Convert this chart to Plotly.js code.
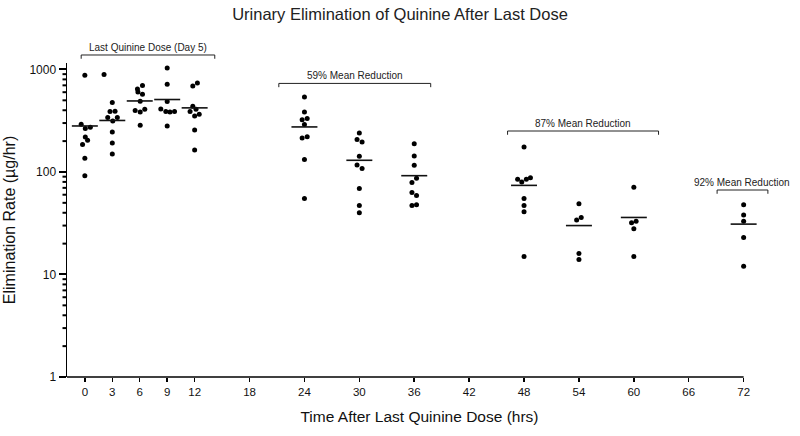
<!DOCTYPE html>
<html>
<head>
<meta charset="utf-8">
<script src="https://cdn.plot.ly/plotly-3.0.1.min.js"></script>
<style>
  html, body { margin: 0; padding: 0; background: #fff; }
  #plot { width: 800px; height: 436px; }
</style>
</head>
<body>
<div id="plot"></div>
<script>
// hours after last dose for each sample (small horizontal jitter as drawn)
const pointTime = [
  0, -0.4, 0.05, 0.6, 0.05, 0.3, -0.25, 0, 0,
  2.1, 3, 2.75, 3.3, 2.5, 3.55, 3.05, 3, 3, 3,
  6.3, 5.75, 5.8, 6.3, 6.05, 5.5, 6.05, 6.55, 6.05,
  9, 9, 9, 8.3, 8.85, 9.3, 9.8, 9,
  11.8, 12.3, 11.8, 11.5, 12.15, 12.5, 12, 12, 12,
  24, 24, 23.75, 24.3, 24, 23.75, 24.3, 24, 24,
  30, 29.75, 30.3, 30, 29.75, 30.3, 30, 30, 30,
  36, 36, 36, 36.25, 35.75, 35.75, 36.25, 35.75, 36.25,
  48, 47.3, 47.75, 48.25, 48.7, 48, 48, 48, 48,
  54, 54.25, 53.75, 54, 54,
  60, 60.25, 59.75, 60, 60,
  72, 72, 72, 72, 72
];
// elimination rate (ug/hr)
const pointRate = [
  877, 292, 265, 273, 219, 204, 185, 136, 92,
  891, 475, 388, 391, 339, 339, 315, 246, 192, 150,
  697, 645, 603, 573, 490, 397, 385, 409, 286,
  1035, 718, 486, 412, 388, 385, 388, 281,
  690, 739, 438, 388, 409, 366, 352, 257, 164,
  539, 385, 324, 332, 290, 215, 221, 132, 55,
  240, 207, 196, 142, 117, 108, 69, 47, 40,
  188, 143, 116, 87, 79, 63, 59, 47, 48,
  175, 85, 80, 85, 88, 55, 47, 41, 15,
  49, 36, 34, 16, 14,
  71, 33, 32, 28, 15,
  48, 38, 33, 23, 12
];

const meanTime = [0, 3, 6, 9, 12, 24, 30, 36, 48, 54, 60, 72];
const meanRate = [281, 318, 493, 509, 422, 275, 130, 92, 74, 30, 36, 31];

const xTicks = [0, 3, 6, 9, 12, 18, 24, 30, 36, 42, 48, 54, 60, 66, 72];
const yTicks = [1, 10, 100, 1000];
const yTickText = ['1', '10', '100', '1000'];

const bracketLabel = ['Last Quinine Dose (Day 5)', '59% Mean Reduction', '87% Mean Reduction', '92% Mean Reduction'];
const bracketStart = [-0.4, 21.2, 46.2, 69.1];
const bracketEnd = [14.2, 37.8, 62.7, 74.65];
const bracketLevel = [1.0255, 0.935, 0.7834, 0.5955];   // paper height of the bracket bar

const xRange = [-1.95, 75.1];
const yRange = [0, 3.063];
const halfWidth = 1.42;   // half length of the mean bar in hours
const plotWidth = 800 - 67 - 28;

// mean bars as one broken line
const meanX = [];
const meanY = [];
meanTime.forEach(function (t, i) {
  meanX.push(t - halfWidth, t + halfWidth, null);
  meanY.push(meanRate[i], meanRate[i], null);
});

// y minor ticks 2..9 in each decade
const minorVals = [];
[1, 10, 100].forEach(function (d) {
  for (let k = 2; k <= 9; k++) minorVals.push(k * d);
});

const traces = [
  {
    x: pointTime, y: pointRate,
    type: 'scatter', mode: 'markers',
    marker: { color: '#000', size: 5 },
    hoverinfo: 'x+y', showlegend: false
  },
  {
    x: meanX, y: meanY,
    type: 'scatter', mode: 'lines',
    line: { color: '#111', width: 1.6 },
    connectgaps: false, hoverinfo: 'skip', showlegend: false
  }
];

const shapes = [
  // x axis line stops at the 72 h tick
  { type: 'line', xref: 'x', yref: 'paper', x0: xRange[0], x1: 72, y0: 0, y1: 0,
    line: { color: '#000', width: 1.5 } }
];
// short minor ticks left of the y axis, placed in paper units along the log axis
minorVals.forEach(function (v) {
  const py = (Math.log10(v) - yRange[0]) / (yRange[1] - yRange[0]);
  shapes.push({
    type: 'line', xref: 'paper', yref: 'paper',
    x0: -4.5 / plotWidth, x1: 0, y0: py, y1: py,
    line: { color: '#000', width: 2 }
  });
});
const annotations = [];
bracketLabel.forEach(function (label, i) {
  const a = bracketStart[i], b = bracketEnd[i], lv = bracketLevel[i], drop = 0.012;
  shapes.push({
    type: 'path', xref: 'x', yref: 'paper',
    path: 'M ' + a + ',' + (lv - drop) + ' L ' + a + ',' + lv + ' L ' + b + ',' + lv + ' L ' + b + ',' + (lv - drop),
    line: { color: '#222', width: 1 }
  });
  annotations.push({
    text: label, xref: 'x', yref: 'paper',
    x: (a + b) / 2, y: lv, yanchor: 'bottom', yshift: 0,
    showarrow: false,
    font: { family: 'Liberation Sans, Arial, sans-serif', size: 10, color: '#222' }
  });
});

const layout = {
  width: 800, height: 436,
  margin: { l: 67, r: 28, t: 63, b: 59 },
  paper_bgcolor: '#fff', plot_bgcolor: '#fff',
  font: { family: 'Liberation Sans, Arial, sans-serif', color: '#111' },
  title: {
    text: 'Urinary Elimination of Quinine After Last Dose',
    font: { family: 'Liberation Sans, Arial, sans-serif', size: 16.5, color: '#222' },
    x: 0.5, xanchor: 'center', y: 0.968, yanchor: 'middle'
  },
  xaxis: {
    range: xRange,
    tickmode: 'array', tickvals: xTicks,
    ticks: 'outside', ticklen: 4, tickwidth: 1.5, tickcolor: '#000',
    showline: false, showgrid: false, zeroline: false,
    tickfont: { family: 'Liberation Sans Narrow, Arial Narrow, Liberation Sans, sans-serif', size: 11.5, color: '#111' },
    title: {
      text: 'Time After Last Quinine Dose (hrs)',
      font: { family: 'Liberation Sans Narrow, Arial Narrow, Liberation Sans, sans-serif', size: 15.5, color: '#111' },
      standoff: 14
    }
  },
  yaxis: {
    type: 'log', range: yRange,
    tickmode: 'array', tickvals: yTicks, ticktext: yTickText,
    ticks: 'outside', ticklen: 7, tickwidth: 2, tickcolor: '#000',
    showline: true, linecolor: '#000', linewidth: 1.5,
    showgrid: false, zeroline: false,
    tickfont: { family: 'Liberation Sans, Arial, sans-serif', size: 12, color: '#111' },
    title: {
      text: 'Elimination Rate (µg/hr)',
      font: { family: 'Liberation Sans, Arial, sans-serif', size: 16, color: '#111' },
      standoff: 10
    }
  },
  shapes: shapes,
  annotations: annotations
};

Plotly.newPlot('plot', traces, layout, { displayModeBar: false, staticPlot: true });
</script>
</body>
</html>
